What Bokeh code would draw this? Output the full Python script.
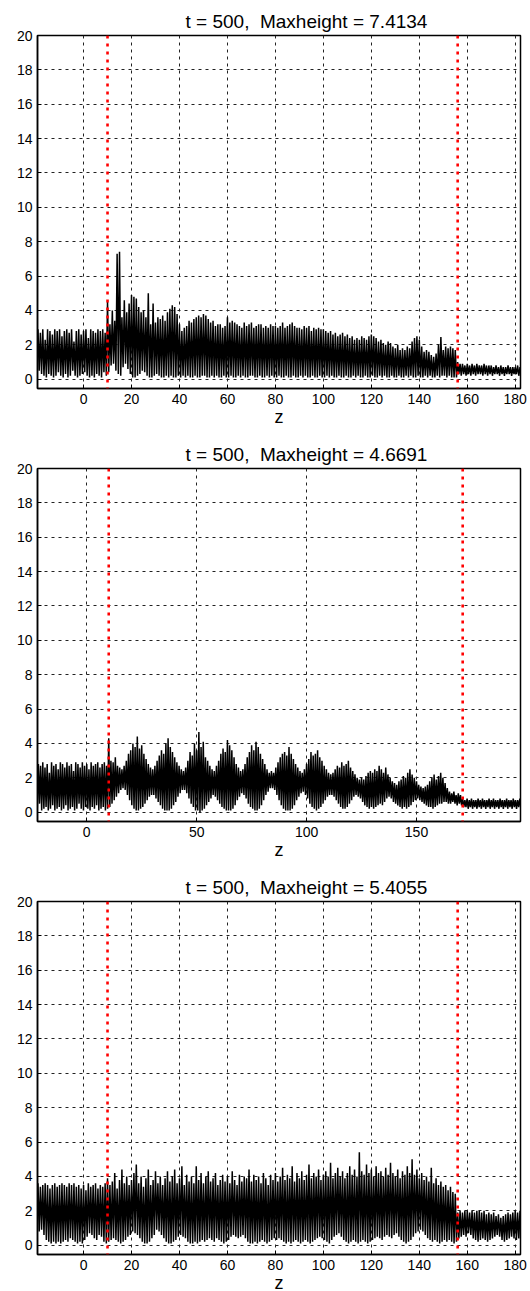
import numpy as np
from bokeh.plotting import figure
from bokeh.models import Range1d, Span, FixedTicker
from bokeh.layouts import column
from bokeh.embed import file_html
from bokeh.resources import INLINE

# ---------------- data ----------------
t_value = 500
max_heights = ["7.4134", "4.6691", "5.4055"]
y_ticks = [0, 2, 4, 6, 8, 10, 12, 14, 16, 18, 20]

# Panel 1: peaks at z = -20, -19, ...; troughs half a unit later
p1_z0 = -20
p1_peaks = [
    2.8, 2.9, 2.7, 2.9, 2.3, 2.9, 2.8, 2.6, 2.9, 2.8,
    2.9, 2.5, 2.8, 2.9, 2.7, 2.9, 2.2, 2.8, 2.9, 2.6,
    2.8, 2.9, 2.4, 2.9, 2.8, 2.7, 2.9, 2.8, 2.9, 2.7,
    4.5, 3.2, 4.0, 3.4, 7.3, 7.41, 3.6, 4.6, 3.9, 4.4,
    4.9, 4.8, 4.7, 4.2, 3.9, 4.0, 3.6, 5.0, 3.2, 4.4,
    3.3, 3.6, 3.5, 3.7, 3.4, 3.9, 4.1, 4.3, 4.2, 3.8,
    3.2, 2.8, 3.0, 3.1, 3.4, 3.3, 3.5, 3.6, 3.7, 3.6,
    3.8, 3.7, 3.5, 3.3, 3.4, 3.1, 3.2, 3.2, 3.0, 3.1,
    3.6, 3.3, 3.4, 3.3, 3.2, 3.1, 3.0, 3.3, 3.1, 3.2,
    3.3, 3.0, 3.1, 3.2, 3.2, 3.0, 3.1, 3.0, 3.2, 3.1,
    3.1, 3.0, 3.1, 3.3, 3.0, 3.1, 3.2, 3.3, 3.1, 3.0,
    3.0, 2.9, 3.1, 3.0, 3.1, 2.8, 3.0, 2.9, 3.0, 2.9,
    2.9, 2.8, 2.7, 2.8, 2.6, 2.7, 2.5, 2.6, 2.7, 2.5,
    2.6, 2.4, 2.5, 2.3, 2.4, 2.3, 2.5, 2.4, 2.3, 2.5,
    2.6, 2.5, 2.4, 2.2, 2.3, 2.1, 2.0, 2.2, 2.1, 1.9,
    1.8, 2.0, 1.7, 1.8, 1.7, 1.9, 1.8, 2.2, 2.4, 2.5,
    2.3, 1.9, 1.6, 1.7, 1.6, 1.4, 1.3, 1.5, 2.0, 2.45,
    1.7, 1.9, 1.8, 1.9, 1.8, 1.7, 1.0, 0.9, 0.9, 0.8,
    0.9, 0.8, 0.9, 0.8, 0.9, 0.8, 0.8, 0.9, 0.8, 0.8,
    0.8, 0.7, 0.8, 0.7, 0.8, 0.7, 0.7, 0.8, 0.7, 0.7,
    0.7, 0.8, 0.7, 0.7,
]
p1_troughs = [
    0.6, 0.5, 0.3, 0.2, 0.1, 0.3, 0.2, 0.1, 0.2, 0.4,
    0.2, 0.1, 0.3, 0.1, 0.2, 0.5, 0.2, 0.1, 0.2, 0.3,
    0.4, 0.2, 0.1, 0.2, 0.1, 0.3, 0.2, 0.1, 0.4, 0.2,
    0.4, 0.8, 0.9, 0.5, 0.3, 0.2, 0.7, 0.9, 0.6, 0.3,
    0.1, 0.1, 0.2, 0.3, 0.5, 0.4, 0.2, 0.1, 0.1, 0.2,
    0.3, 0.2, 0.1, 0.1, 0.2, 0.1, 0.2, 0.1, 0.1, 0.2,
    0.1, 0.2, 0.1, 0.2, 0.1, 0.1, 0.2, 0.1, 0.1, 0.2,
    0.2, 0.1, 0.1, 0.2, 0.1, 0.2, 0.1, 0.1, 0.2, 0.1,
    0.1, 0.2, 0.1, 0.1, 0.2, 0.1, 0.2, 0.1, 0.1, 0.2,
    0.2, 0.1, 0.1, 0.2, 0.1, 0.1, 0.2, 0.1, 0.2, 0.1,
    0.1, 0.2, 0.1, 0.1, 0.2, 0.1, 0.1, 0.2, 0.1, 0.1,
    0.2, 0.1, 0.2, 0.1, 0.1, 0.2, 0.1, 0.1, 0.2, 0.1,
    0.1, 0.2, 0.1, 0.2, 0.1, 0.1, 0.2, 0.1, 0.1, 0.2,
    0.1, 0.1, 0.2, 0.1, 0.2, 0.1, 0.1, 0.2, 0.1, 0.1,
    0.2, 0.1, 0.1, 0.2, 0.1, 0.2, 0.1, 0.1, 0.2, 0.1,
    0.1, 0.2, 0.1, 0.1, 0.2, 0.1, 0.2, 0.1, 0.1, 0.2,
    0.1, 0.1, 0.2, 0.1, 0.2, 0.1, 0.1, 0.2, 0.1, 0.2,
    0.2, 0.1, 0.2, 0.1, 0.1, 0.1, 0.3, 0.2, 0.3, 0.2,
    0.3, 0.2, 0.3, 0.2, 0.3, 0.3, 0.2, 0.3, 0.2, 0.3,
    0.2, 0.3, 0.3, 0.2, 0.3, 0.2, 0.3, 0.3, 0.2, 0.3,
    0.3, 0.2, 0.3, 0.2,
]
p1_interfaces = [10, 156]
p1_xticks = [0, 20, 40, 60, 80, 100, 120, 140, 160, 180]

# Panel 2
p2_z0 = -30
p2_peaks = [
    2.7, 2.8, 2.5, 2.9, 2.6, 2.8, 2.9, 2.4, 2.8, 2.7,
    2.9, 2.6, 2.8, 2.3, 2.9, 2.7, 2.8, 2.5, 2.9, 2.8,
    2.6, 2.9, 2.7, 2.8, 2.4, 2.9, 2.8, 2.6, 2.9, 2.7,
    2.8, 2.5, 2.9, 2.7, 2.8, 2.9, 2.6, 2.8, 2.9, 2.7,
    4.3, 3.0, 2.9, 3.2, 2.7, 2.6, 2.5, 2.7, 3.0, 3.4,
    3.6, 4.0, 3.8, 4.4, 3.7, 3.9, 3.4, 3.1, 2.8, 2.6,
    2.5, 2.7, 3.0, 3.3, 3.6, 3.4, 4.0, 4.3, 3.8, 3.5,
    3.2, 2.9, 2.7, 2.5, 2.4, 2.6, 3.0, 3.5, 3.3, 4.0,
    3.6, 4.67, 3.8, 4.1, 3.2, 3.0, 2.7, 2.5, 2.4, 2.7,
    3.0, 3.4, 3.7, 3.5, 4.2, 3.9, 3.6, 3.2, 2.8, 2.6,
    2.4, 2.5, 2.8, 3.2, 3.5, 3.9, 3.6, 4.1, 3.8, 3.4,
    3.1, 2.8, 2.5, 2.3, 2.4, 2.3, 2.6, 2.9, 3.2, 3.4,
    3.5, 3.3, 3.8, 3.4, 3.1, 2.8, 2.6, 2.4, 2.3, 2.5,
    2.8, 3.1, 3.5, 3.3, 3.4, 3.6, 3.2, 3.0, 2.7, 2.5,
    2.3, 2.2, 2.3, 2.5, 2.7, 2.6, 2.9, 2.7, 2.8, 3.0,
    2.6, 2.4, 2.2, 2.0, 1.9, 2.0, 1.9, 2.1, 2.3, 2.4,
    2.3, 2.5, 2.4, 2.7, 2.5, 2.3, 2.6, 2.2, 2.0, 1.8,
    1.7, 1.6, 1.8, 1.9, 2.1, 2.0, 2.3, 2.5, 2.2, 2.0,
    1.8, 1.6, 1.5, 1.4, 1.5, 1.6, 1.8, 2.0, 2.2, 1.9,
    2.1, 2.3, 2.0, 1.7, 1.4, 1.2, 1.1, 1.2, 1.0, 1.1,
    1.0, 0.8, 0.7, 0.8, 0.7, 0.8, 0.7, 0.7, 0.8, 0.7,
    0.8, 0.7, 0.7, 0.8, 0.7, 0.8, 0.7, 0.7, 0.8, 0.7,
    0.7, 0.8, 0.7, 0.7, 0.8, 0.7, 0.7, 0.8, 0.7, 0.7,
]
p2_troughs = [
    0.3, 0.2, 0.1, 0.4, 0.2, 0.1, 0.3, 0.2, 0.5, 0.1,
    0.2, 0.3, 0.1, 0.2, 0.4, 0.1, 0.2, 0.3, 0.1, 0.2,
    0.4, 0.1, 0.2, 0.3, 0.1, 0.2, 0.5, 0.2, 0.1, 0.3,
    0.2, 0.1, 0.3, 0.2, 0.4, 0.1, 0.2, 0.3, 0.1, 0.2,
    0.3, 0.5, 0.7, 0.9, 1.1, 1.3, 1.4, 1.3, 1.0, 0.7,
    0.4, 0.2, 0.1, 0.1, 0.2, 0.3, 0.5, 0.7, 0.9, 1.0,
    1.0, 0.8, 0.6, 0.4, 0.2, 0.1, 0.1, 0.1, 0.2, 0.4,
    0.6, 0.9, 1.1, 1.3, 1.3, 1.1, 0.8, 0.5, 0.3, 0.1,
    0.1, 0.0, 0.1, 0.2, 0.4, 0.6, 0.8, 1.0, 0.9, 0.7,
    0.5, 0.3, 0.2, 0.1, 0.1, 0.1, 0.2, 0.4, 0.7, 0.9,
    1.1, 1.0, 0.8, 0.5, 0.3, 0.2, 0.1, 0.1, 0.2, 0.4,
    0.7, 1.0, 1.2, 1.4, 1.4, 1.3, 1.0, 0.7, 0.4, 0.2,
    0.1, 0.1, 0.1, 0.2, 0.4, 0.7, 0.9, 1.1, 1.2, 1.0,
    0.8, 0.5, 0.3, 0.2, 0.1, 0.2, 0.3, 0.5, 0.7, 0.9,
    1.0, 1.0, 0.9, 0.7, 0.5, 0.3, 0.2, 0.2, 0.3, 0.5,
    0.7, 0.9, 1.0, 0.9, 0.8, 0.6, 0.4, 0.3, 0.2, 0.3,
    0.2, 0.3, 0.4, 0.5, 0.4, 0.6, 0.8, 0.9, 0.8, 0.6,
    0.5, 0.4, 0.3, 0.2, 0.3, 0.2, 0.3, 0.4, 0.6, 0.7,
    0.8, 0.7, 0.6, 0.5, 0.4, 0.3, 0.3, 0.2, 0.3, 0.4,
    0.5, 0.5, 0.6, 0.6, 0.5, 0.5, 0.6, 0.5, 0.4, 0.5,
    0.4, 0.3, 0.3, 0.2, 0.3, 0.2, 0.3, 0.2, 0.3, 0.2,
    0.3, 0.2, 0.3, 0.2, 0.3, 0.2, 0.3, 0.2, 0.3, 0.2,
    0.3, 0.2, 0.3, 0.2, 0.3, 0.2, 0.3, 0.2, 0.3, 0.2,
]
p2_interfaces = [10, 171]
p2_xticks = [0, 50, 100, 150]

# Panel 3
p3_z0 = -20
p3_peaks = [
    3.5, 3.6, 3.4, 3.5, 3.6, 3.5, 3.3, 3.5, 3.6, 3.4,
    3.5, 3.6, 3.5, 3.4, 3.6, 3.5, 3.6, 3.4, 3.5, 3.3,
    3.5, 3.2, 3.6, 3.4, 3.5, 3.6, 3.3, 3.5, 3.4, 3.6,
    3.9, 3.5, 3.7, 4.2, 3.3, 3.8, 4.4, 3.6, 4.0, 3.5,
    3.8, 4.2, 4.7, 3.6, 4.0, 3.4, 3.9, 4.4, 3.5, 3.8,
    4.3, 3.6, 4.0, 3.5, 3.9, 4.3, 3.7, 4.0, 4.4, 3.6,
    3.9, 4.6, 3.5, 4.1, 3.7, 4.0, 3.6, 4.6, 3.8, 4.2,
    3.6, 4.0, 4.3, 3.7, 3.9, 4.2, 3.5, 3.8, 4.1, 3.7,
    4.0, 3.6, 4.3, 3.8, 3.5, 4.1, 3.7, 4.0, 3.9, 4.4,
    3.7, 4.1, 3.8, 4.0, 3.6, 4.2, 3.9, 3.5, 4.1, 3.8,
    4.2, 3.7, 4.0, 4.5, 3.8, 4.1, 3.9, 4.6, 3.7, 4.2,
    3.9, 4.3, 3.8, 4.1, 4.7, 3.9, 4.2, 4.0, 4.4, 3.8,
    4.1, 4.3, 4.0, 4.8, 3.9, 4.2, 4.5, 4.0, 4.3, 3.9,
    4.2, 4.6, 4.1, 4.4, 4.0, 5.41, 4.3, 4.1, 4.7, 4.2,
    4.4, 4.0, 4.6, 4.2, 4.3, 4.0, 4.5, 4.1, 4.8, 4.2,
    4.0, 4.4, 3.9, 4.3, 4.1, 4.6, 4.2, 5.0, 4.1, 4.4,
    3.9, 4.2, 3.8, 4.0, 3.7, 4.5, 3.6, 3.9, 3.5, 3.7,
    3.4, 3.5, 3.2, 3.4, 3.1, 3.0, 1.9, 2.0, 1.9, 2.0,
    2.0, 1.9, 2.0, 1.9, 2.0, 2.0, 1.9, 2.0, 1.8, 1.9,
    1.8, 1.9, 1.7, 1.8, 1.6, 1.7, 1.8, 1.9, 1.8, 1.9,
    2.0, 1.9, 2.0, 1.9,
]
p3_troughs = [
    0.9, 0.8, 0.9, 0.6, 0.3, 0.2, 0.1, 0.2, 0.1, 0.2,
    0.1, 0.2, 0.3, 0.2, 0.4, 0.3, 0.2, 0.1, 0.2, 0.1,
    0.3, 0.5, 0.7, 0.6, 0.4, 0.3, 0.6, 0.5, 0.2, 0.1,
    0.2, 0.3, 0.4, 0.3, 0.2, 0.1, 0.2, 0.3, 0.5, 0.6,
    0.8, 0.7, 0.6, 0.4, 0.2, 0.1, 0.1, 0.2, 0.4, 0.6,
    0.9, 0.8, 0.6, 0.4, 0.2, 0.1, 0.1, 0.2, 0.3, 0.5,
    0.6, 0.5, 0.4, 0.2, 0.1, 0.1, 0.2, 0.1, 0.2, 0.3,
    0.2, 0.3, 0.4, 0.3, 0.2, 0.4, 0.3, 0.2, 0.1, 0.2,
    0.3, 0.5, 0.6, 0.5, 0.4, 0.5, 0.6, 0.4, 0.2, 0.1,
    0.1, 0.2, 0.1, 0.2, 0.3, 0.2, 0.1, 0.2, 0.3, 0.4,
    0.3, 0.4, 0.3, 0.2, 0.1, 0.2, 0.1, 0.2, 0.3, 0.2,
    0.1, 0.2, 0.3, 0.2, 0.1, 0.2, 0.3, 0.4, 0.5, 0.4,
    0.3, 0.2, 0.1, 0.3, 0.5, 0.6, 0.7, 0.5, 0.3, 0.2,
    0.1, 0.2, 0.3, 0.2, 0.1, 0.2, 0.3, 0.2, 0.1, 0.2,
    0.3, 0.4, 0.5, 0.4, 0.3, 0.5, 0.6, 0.5, 0.4, 0.6,
    0.7, 0.5, 0.3, 0.2, 0.1, 0.2, 0.3, 0.5, 0.7, 0.8,
    0.9, 0.8, 0.6, 0.4, 0.3, 0.2, 0.3, 0.2, 0.1, 0.2,
    0.3, 0.2, 0.3, 0.2, 0.1, 0.2, 0.4, 0.5, 0.6, 0.5,
    0.7, 0.6, 0.4, 0.3, 0.2, 0.3, 0.4, 0.3, 0.2, 0.3,
    0.4, 0.5, 0.6, 0.5, 0.3, 0.2, 0.3, 0.4, 0.5, 0.4,
    0.3, 0.4, 0.3, 0.2,
]
p3_interfaces = [10, 156]
p3_xticks = p1_xticks

# ---------------- drawing ----------------
FONT = "Liberation Sans"


def zigzag(z0, peaks, troughs):
    n = len(peaks)
    zp = z0 + np.arange(n, dtype=float)
    x = np.empty(2 * n)
    y = np.empty(2 * n)
    x[0::2] = zp
    x[1::2] = zp + 0.5
    y[0::2] = peaks
    y[1::2] = troughs
    return x, y


def make_panel(maxh, xr, xticks, z0, peaks, troughs, interfaces, top, bottom):
    p = figure(
        frame_width=483, frame_height=353,
        x_range=Range1d(*xr), y_range=Range1d(-0.54, 20),
        output_backend="svg", toolbar_location=None,
        min_border_left=37, min_border_right=10,
        min_border_top=top, min_border_bottom=bottom,
        background_fill_color="white", border_fill_color="white",
    )
    p.title.text = f"t = {t_value}, \u00a0Maxheight = {maxh}"
    p.title.text_font = FONT
    p.title.text_font_size = "19px"
    p.title.text_font_style = "normal"
    p.title.text_color = "black"
    p.title.align = "left"
    p.title.offset = 148
    p.title.standoff = 7

    x, y = zigzag(z0, peaks, troughs)
    p.line(x, y, line_color="black", line_width=1.5)

    for zi in interfaces:
        p.add_layout(Span(location=zi, dimension="height", line_color="#ff0000",
                          line_width=2.6, line_dash="3 5"))

    p.outline_line_color = "black"
    p.outline_line_width = 1.5
    p.outline_line_alpha = 1

    p.xaxis.ticker = FixedTicker(ticks=xticks)
    p.yaxis.ticker = FixedTicker(ticks=y_ticks)
    for ax in (p.xaxis[0], p.yaxis[0]):
        ax.major_tick_in = 4
        ax.major_tick_out = 0
        ax.minor_tick_in = 0
        ax.minor_tick_out = 0
        ax.axis_line_color = "black"
        ax.axis_line_width = 1.5
        ax.major_tick_line_color = "black"
        ax.major_label_text_font = FONT
        ax.major_label_text_font_size = "14px"
        ax.major_label_text_color = "black"
    p.yaxis.major_label_standoff = 5
    p.xaxis.major_label_standoff = 5
    p.xaxis.axis_label = "z"
    p.xaxis.axis_label_text_font = FONT
    p.xaxis.axis_label_text_font_size = "18px"
    p.xaxis.axis_label_text_font_style = "normal"
    p.xaxis.axis_label_text_color = "black"
    p.xaxis.axis_label_standoff = 0

    p.xgrid.ticker = FixedTicker(ticks=xticks)
    p.ygrid.ticker = FixedTicker(ticks=y_ticks)
    p.grid.grid_line_color = "#222222"
    p.grid.grid_line_width = 1
    p.grid.grid_line_dash = "3 4"
    return p


p1 = make_panel(max_heights[0], (-19.2, 182.2), p1_xticks, p1_z0, p1_peaks, p1_troughs, p1_interfaces, 35, 50)
p2 = make_panel(max_heights[1], (-22.4, 197.3), p2_xticks, p2_z0, p2_peaks, p2_troughs, p2_interfaces, 27, 50)
p3 = make_panel(max_heights[2], (-19.2, 182.2), p3_xticks, p3_z0, p3_peaks, p3_troughs, p3_interfaces, 27, 43)

layout = column(p1, p2, p3, spacing=0)
open("out.html", "w").write(file_html(layout, INLINE))
